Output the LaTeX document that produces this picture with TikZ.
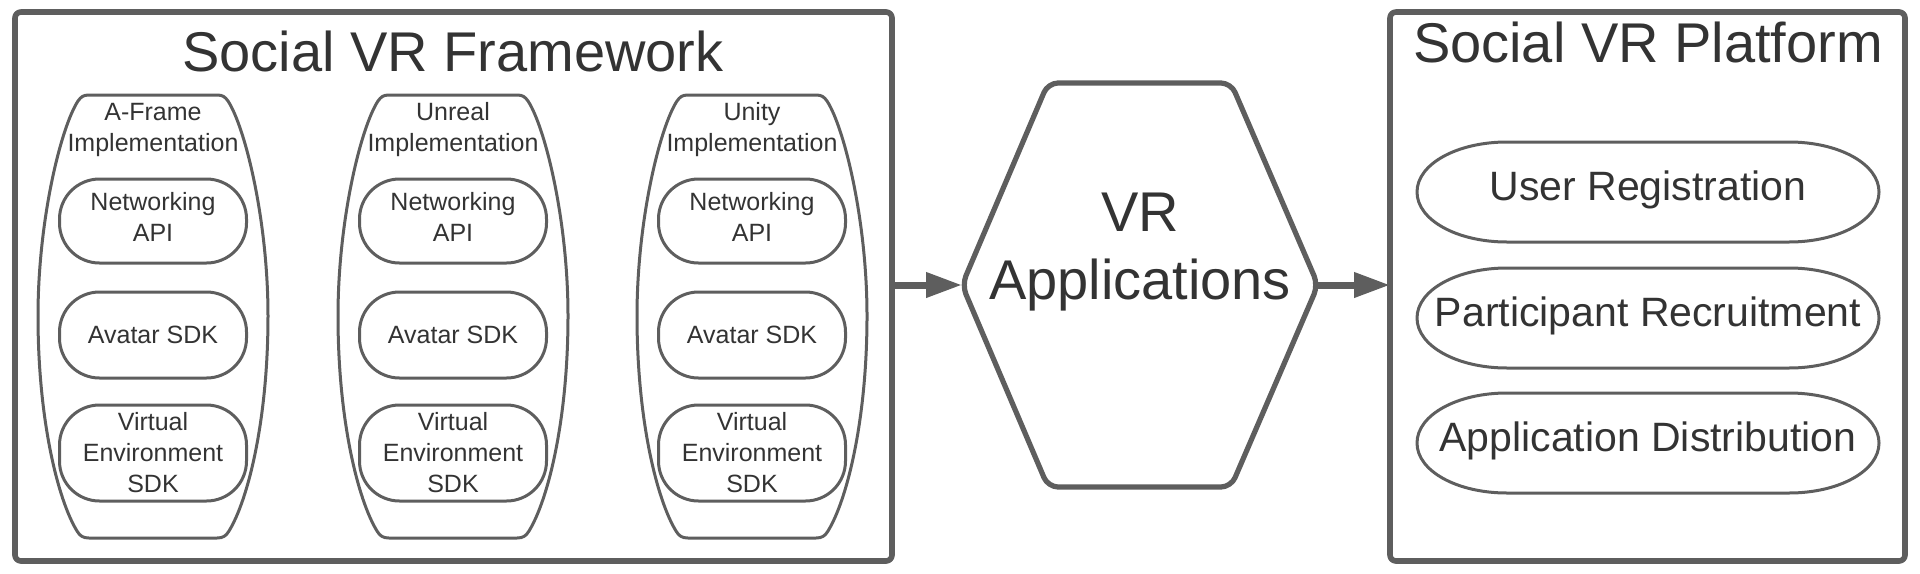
\documentclass[tikz,border=0pt]{standalone}
\usepackage{fontspec}
\setmainfont{Liberation Sans}
\usetikzlibrary{arrows.meta}

\definecolor{linegray}{HTML}{5E5E5E}
\definecolor{textgray}{HTML}{333333}

\tikzset{
	outerbox/.style={draw=linegray, line width=2.8pt, rounded corners=3pt},
	tube/.style={draw=linegray, line width=1.5pt},
	colname/.style={align=center, text=textgray, font=\fontsize{12.5}{15.5}\selectfont},
	pill/.style={draw=linegray, line width=1.5pt, rounded corners=20pt, minimum width=93.5pt, minimum height=42pt, inner sep=0pt, align=center, text=textgray, font=\fontsize{12.5}{15.5}\selectfont},
	bigtext/.style={align=center, text=textgray, font=\fontsize{28}{34}\selectfont},
	service/.style={inner sep=0pt, text=textgray, font=\fontsize{20.5}{24}\selectfont},
	flow/.style={draw=linegray, line width=3.5pt, -{Triangle[length=18pt,width=12pt]}}
}

\begin{document}
\begin{tikzpicture}[x=0.5pt, y=-0.5pt, line join=round]
		\useasboundingbox (0,0) rectangle (1920,573);

		\coordinate (fwR) at (892,285);
		\coordinate (hexL) at (962,285);
		\coordinate (hexR) at (1318,285);
		\coordinate (pfL) at (1390,285);

		% draw the framework box
		\draw [outerbox] (15,12) rectangle (892,561);
		\node [bigtext, anchor=base] (fwtitle) at (453,71) {Social VR Framework};

		% draw the three implementation columns
		\draw [tube, shift={(153,0)}] (-64,95) -- (64,95) .. controls (70,95) and (72,97) .. (75,101) .. controls (92,127) and (115,220) .. (115,316) .. controls (115,420) and (95,500) .. (76,531) .. controls (73,536) and (70,538) .. (64,538) -- (-64,538) .. controls (-70,538) and (-73,536) .. (-76,531) .. controls (-95,500) and (-115,420) .. (-115,316) .. controls (-115,220) and (-92,127) .. (-75,101) .. controls (-72,97) and (-70,95) .. cycle;
		\draw [tube, shift={(453,0)}] (-64,95) -- (64,95) .. controls (70,95) and (72,97) .. (75,101) .. controls (92,127) and (115,220) .. (115,316) .. controls (115,420) and (95,500) .. (76,531) .. controls (73,536) and (70,538) .. (64,538) -- (-64,538) .. controls (-70,538) and (-73,536) .. (-76,531) .. controls (-95,500) and (-115,420) .. (-115,316) .. controls (-115,220) and (-92,127) .. (-75,101) .. controls (-72,97) and (-70,95) .. cycle;
		\draw [tube, shift={(752,0)}] (-64,95) -- (64,95) .. controls (70,95) and (72,97) .. (75,101) .. controls (92,127) and (115,220) .. (115,316) .. controls (115,420) and (95,500) .. (76,531) .. controls (73,536) and (70,538) .. (64,538) -- (-64,538) .. controls (-70,538) and (-73,536) .. (-76,531) .. controls (-95,500) and (-115,420) .. (-115,316) .. controls (-115,220) and (-92,127) .. (-75,101) .. controls (-72,97) and (-70,95) .. cycle;

		\node [colname] (aframe) at (153,130) {A-Frame\\Implementation};
		\node [pill, text depth=4pt] (aframenet) at (153,221) {Networking\\API};
		\node [pill, minimum height=43pt] (aframeavatar) at (153,335) {Avatar SDK};
		\node [pill, minimum height=48pt] (aframeenv) at (153,453) {Virtual\\Environment\\SDK};

		\node [colname] (unreal) at (453,130) {Unreal\\Implementation};
		\node [pill, text depth=4pt] (unrealnet) at (453,221) {Networking\\API};
		\node [pill, minimum height=43pt] (unrealavatar) at (453,335) {Avatar SDK};
		\node [pill, minimum height=48pt] (unrealenv) at (453,453) {Virtual\\Environment\\SDK};

		\node [colname] (unity) at (752,130) {Unity\\Implementation};
		\node [pill, text depth=4pt] (unitynet) at (752,221) {Networking\\API};
		\node [pill, minimum height=43pt] (unityavatar) at (752,335) {Avatar SDK};
		\node [pill, minimum height=48pt] (unityenv) at (752,453) {Virtual\\Environment\\SDK};

		% draw the hexagon in the middle
		\draw [outerbox, line width=2.6pt, rounded corners=5pt] (hexL) -- (1048,83) -- (1231,83) -- (hexR) -- (1231,487) -- (1048,487) -- cycle;
		\node [bigtext] (vrapps) at (1140,252) {VR\\Applications};

		% draw the platform box
		\draw [outerbox] (1390,12) rectangle (1905,561);
		\node [bigtext, anchor=base] (pftitle) at (1648,62) {Social VR Platform};

		\node [service] (registration) at (1648,190) {User Registration};
		\node [service] (recruitment) at (1648,316) {Participant Recruitment};
		\node [service] (distribution) at (1648,441) {Application Distribution};
		\draw [tube, shift={(1648,192)}] (-141,-50) -- (141,-50) .. controls (191,-50) and (231,-28) .. (231,0) .. controls (231,28) and (191,50) .. (141,50) -- (-141,50) .. controls (-191,50) and (-231,28) .. (-231,0) .. controls (-231,-28) and (-191,-50) .. cycle;
		\draw [tube, shift={(1648,318)}] (-141,-50) -- (141,-50) .. controls (191,-50) and (231,-28) .. (231,0) .. controls (231,28) and (191,50) .. (141,50) -- (-141,50) .. controls (-191,50) and (-231,28) .. (-231,0) .. controls (-231,-28) and (-191,-50) .. cycle;
		\draw [tube, shift={(1648,443)}] (-141,-50) -- (141,-50) .. controls (191,-50) and (231,-28) .. (231,0) .. controls (231,28) and (191,50) .. (141,50) -- (-141,50) .. controls (-191,50) and (-231,28) .. (-231,0) .. controls (-231,-28) and (-191,-50) .. cycle;

		% draw arrows
		\draw [flow] (fwR) -- (hexL);
		\draw [flow] (hexR) -- (pfL);
\end{tikzpicture}
\end{document}
